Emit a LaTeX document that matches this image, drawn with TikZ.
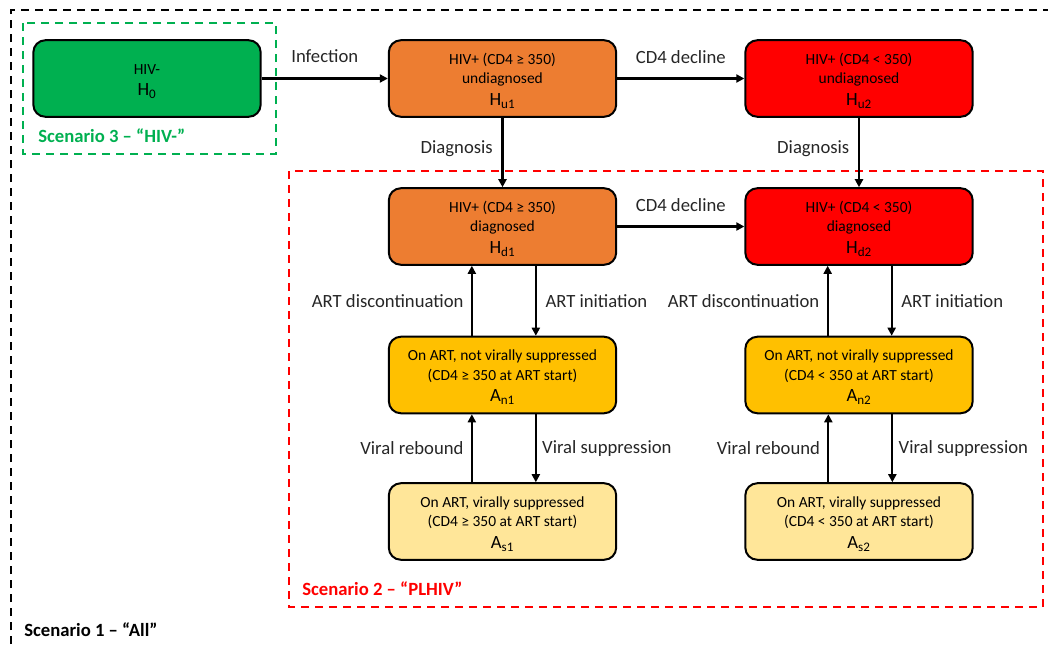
\documentclass[tikz,border=0pt]{standalone}
\usepackage{fontspec}
\setmainfont{Carlito}
\usetikzlibrary{arrows.meta}
\definecolor{cgreen}{HTML}{00B050}
\definecolor{corange}{HTML}{ED7D31}
\definecolor{cred}{HTML}{FF0000}
\definecolor{cyel}{HTML}{FFC000}
\definecolor{clight}{HTML}{FFE699}
\definecolor{ctext}{HTML}{262626}
\newcommand{\statelbl}[2]{{\fontsize{14}{16}\selectfont #1\textsubscript{#2}}}
\newcommand{\topstrut}{\rule{0pt}{11.8pt}}
\begin{document}
\begin{tikzpicture}[x=0.75pt,y=-0.75pt,
  box/.style={draw=black,line width=1.5pt,rounded corners=9pt,minimum width=170.5pt,minimum height=57.4pt,align=center,inner sep=0pt,text=black},
  hfont/.style={font=\fontsize{11.6}{14.4}\selectfont},
  afont/.style={font=\fontsize{11.6}{14.6}\selectfont},
  arr/.style={line width=1.6pt,-{Triangle[length=6pt,width=6pt]}},
  lbl/.style={font=\fontsize{14}{16}\selectfont,text=ctext,inner sep=0pt},
  frame/.style={line width=1.5pt,dash pattern=on 6pt off 4.5pt},
  scen/.style={font=\bfseries\fontsize{14}{16}\selectfont,anchor=west,inner sep=0pt}]
\useasboundingbox (0,0) rectangle (1048,644);

% frames
\draw[frame,draw=black] (11,644) -- (11,10) -- (1048,10);
\draw[frame,draw=cgreen] (23,23) rectangle (276,154);
\draw[frame,draw=cred] (289,171) rectangle (1043,607);

% states
\node[box,fill=cgreen,hfont] (H0) at (147,78.5) {\topstrut HIV-\\[1.5pt]\statelbl{H}{0}};
\node[box,fill=corange,hfont] (Hu1) at (502.5,78.5) {\topstrut HIV+ (CD4 ≥ 350)\\undiagnosed\\[2.5pt]\statelbl{H}{u1}};
\node[box,fill=cred,hfont] (Hu2) at (859,78.5) {\topstrut HIV+ (CD4 < 350)\\undiagnosed\\[2.5pt]\statelbl{H}{u2}};
\node[box,fill=corange,hfont] (Hd1) at (502.5,226.5) {\topstrut HIV+ (CD4 ≥ 350)\\diagnosed\\[2.5pt]\statelbl{H}{d1}};
\node[box,fill=cred,hfont] (Hd2) at (859,226.5) {\topstrut HIV+ (CD4 < 350)\\diagnosed\\[2.5pt]\statelbl{H}{d2}};
\node[box,fill=cyel,afont] (An1) at (502.5,375) {\topstrut On ART, not virally suppressed\\(CD4 ≥ 350 at ART start)\\[1.5pt]\statelbl{A}{n1}};
\node[box,fill=cyel,afont] (An2) at (859,375) {\topstrut On ART, not virally suppressed\\(CD4 < 350 at ART start)\\[1.5pt]\statelbl{A}{n2}};
\node[box,fill=clight,afont] (As1) at (502.5,521.5) {\topstrut On ART, virally suppressed\\(CD4 ≥ 350 at ART start)\\[1.5pt]\statelbl{A}{s1}};
\node[box,fill=clight,afont] (As2) at (859,521.5) {\topstrut On ART, virally suppressed\\(CD4 < 350 at ART start)\\[1.5pt]\statelbl{A}{s2}};

% horizontal transitions
\draw[arr] (H0) -- (Hu1) node[lbl,midway,yshift=16.5pt] (lInf) {Infection};
\draw[arr] (Hu1) -- (Hu2) node[lbl,midway,yshift=16pt] (lCD1) {CD4 decline};
\draw[arr] (Hd1) -- (Hd2) node[lbl,midway,yshift=16pt] (lCD2) {CD4 decline};

% diagnosis
\draw[arr] (Hu1) -- (Hd1) node[lbl,pos=0.44,left=6.5pt] (lDg1) {Diagnosis};
\draw[arr] (Hu2) -- (Hd2) node[lbl,pos=0.44,left=6.5pt] (lDg2) {Diagnosis};

% ART
\draw[arr] ([xshift=-23pt]An1.north) -- ([xshift=-23pt]Hd1.south) node[lbl,midway,left=5.5pt] (lAd1) {ART discontinuation};
\draw[arr] ([xshift=25pt]Hd1.south) -- ([xshift=25pt]An1.north) node[lbl,midway,right=6.5pt] (lAi1) {ART initiation};
\draw[arr] ([xshift=-23.5pt]An2.north) -- ([xshift=-23.5pt]Hd2.south) node[lbl,midway,left=5.5pt] (lAd2) {ART discontinuation};
\draw[arr] ([xshift=24.5pt]Hd2.south) -- ([xshift=24.5pt]An2.north) node[lbl,midway,right=6.5pt] (lAi2) {ART initiation};

% viral
\draw[arr] ([xshift=-23pt]As1.north) -- ([xshift=-23pt]An1.south) node[lbl,midway,left=5.5pt] (lVr1) {Viral rebound};
\draw[arr] ([xshift=25pt]An1.south) -- ([xshift=25pt]As1.north) node[lbl,midway,right=4pt] (lVs1) {Viral suppression};
\draw[arr] ([xshift=-23pt]As2.north) -- ([xshift=-23pt]An2.south) node[lbl,midway,left=5.5pt] (lVr2) {Viral rebound};
\draw[arr] ([xshift=25pt]An2.south) -- ([xshift=25pt]As2.north) node[lbl,midway,right=4pt] (lVs2) {Viral suppression};

% scenario labels
\node[scen,text=cgreen] (s3) at (38,136) {Scenario 3 – “HIV-”};
\node[scen,text=cred] (s2) at (302,589) {Scenario 2 – “PLHIV”};
\node[scen,text=black] (s1) at (24,630) {Scenario 1 – “All”};
\end{tikzpicture}
\end{document}
